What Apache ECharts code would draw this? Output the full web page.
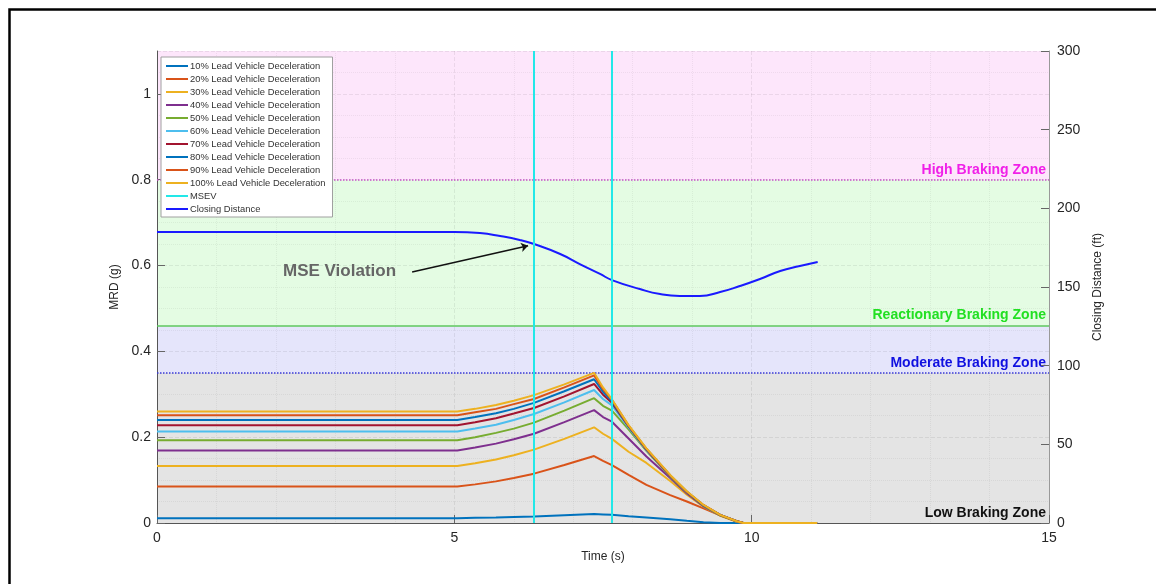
<!DOCTYPE html>
<html><head><meta charset="utf-8">
<script src="https://cdn.jsdelivr.net/npm/echarts@6/dist/echarts.min.js"></script>
<style>html,body{margin:0;padding:0;background:#fff}#c{width:1156px;height:584px}</style>
</head><body><div id="c"></div>
<script>
// ---------- data ----------
const seriesNames = [
  '10% Lead Vehicle Deceleration','20% Lead Vehicle Deceleration','30% Lead Vehicle Deceleration',
  '40% Lead Vehicle Deceleration','50% Lead Vehicle Deceleration','60% Lead Vehicle Deceleration',
  '70% Lead Vehicle Deceleration','80% Lead Vehicle Deceleration','90% Lead Vehicle Deceleration',
  '100% Lead Vehicle Deceleration'
];
const mrdTime = [0, 5.05, 5.35, 5.7, 6.0, 6.34, 6.85, 7.35, 7.5, 7.65, 7.93, 8.23, 8.63, 8.91, 9.19, 9.47, 9.75, 9.86, 11.1];
const mrd10  = [0.011,0.011,0.012,0.013,0.014,0.015,0.018,0.021,0.020,0.019,0.016,0.013,0.009,0.005,0.002,0,0,0,0];
const mrd20  = [0.085,0.085,0.090,0.097,0.105,0.115,0.135,0.156,0.145,0.135,0.112,0.089,0.065,0.050,0.034,0.018,0.004,0,0];
const mrd30  = [0.133,0.133,0.139,0.148,0.158,0.171,0.196,0.223,0.208,0.196,0.166,0.140,0.098,0.066,0.038,0.017,0.003,0,0];
const mrd40  = [0.169,0.169,0.176,0.185,0.195,0.208,0.235,0.263,0.247,0.236,0.197,0.155,0.105,0.069,0.039,0.018,0.004,0,0];
const mrd50  = [0.193,0.193,0.200,0.210,0.220,0.234,0.262,0.291,0.273,0.262,0.218,0.168,0.108,0.071,0.040,0.018,0.004,0,0];
const mrd60  = [0.213,0.213,0.220,0.229,0.240,0.254,0.281,0.310,0.289,0.274,0.223,0.170,0.110,0.072,0.041,0.019,0.004,0,0];
const mrd70  = [0.228,0.228,0.235,0.244,0.255,0.268,0.295,0.324,0.299,0.280,0.225,0.171,0.110,0.072,0.041,0.019,0.004,0,0];
const mrd80  = [0.240,0.240,0.247,0.256,0.266,0.280,0.307,0.335,0.306,0.284,0.226,0.172,0.111,0.073,0.041,0.019,0.004,0,0];
const mrd90  = [0.251,0.251,0.258,0.266,0.277,0.289,0.316,0.344,0.312,0.287,0.227,0.173,0.111,0.073,0.042,0.019,0.004,0,0];
const mrd100 = [0.260,0.260,0.266,0.275,0.285,0.298,0.323,0.350,0.316,0.288,0.228,0.174,0.112,0.074,0.042,0.019,0.004,0,0];
const mrdValues = [mrd10, mrd20, mrd30, mrd40, mrd50, mrd60, mrd70, mrd80, mrd90, mrd100];

const closingTime = [0,5.0,5.43,5.77,6.10,6.34,6.78,7.11,7.45,7.65,8.12,8.46,8.79,9.13,9.47,9.80,10.14,10.48,10.81,11.11];
const closingDist = [185,185,184.3,182.4,179.9,177.3,171.0,164.6,158.3,154.4,148.7,145.5,144.3,144.3,146.8,150.6,155.1,160.2,163.3,165.9];

const msevTimes = [6.34, 7.65];
const zoneBounds = [0, 0.35, 0.46, 0.8, 1.1];
const zoneNames = ['Low Braking Zone', 'Moderate Braking Zone', 'Reactionary Braking Zone', 'High Braking Zone'];
const xTicks = {min: 0, max: 15, step: 5};
const yLeftTicks = {min: 0, max: 1.1, step: 0.2};
const yRightTicks = {min: 0, max: 300, step: 50};
const annotationText = 'MSE Violation';

// ---------- styles ----------
const palette = ['#0072BD','#D95319','#EDB120','#7E2F8E','#77AC30','#4DBEEE','#A2142F','#0072BD','#D95319','#EDB120'];
const FONT = '"Liberation Sans", Arial, sans-serif';
const zoneFill = ['#e4e4e4', '#e5e5fb', '#e4fce3', '#fde6fb'];
const zoneLabelColor = ['#111111', '#1010e0', '#22e022', '#f020e8'];

const chart = echarts.init(document.getElementById('c'), null, {renderer: 'canvas'});

const series = [];
// zones
series.push({
  name: 'zones', type: 'line', data: [], z: 0, silent: true,
  markArea: {
    silent: true, z: 0,
    data: zoneNames.map((n, i) => [
      {yAxis: zoneBounds[i], itemStyle: {color: zoneFill[i]},
       label: {show: true, position: 'insideBottomRight', distance: 3, formatter: n,
               color: zoneLabelColor[i], fontWeight: 'bold', fontSize: 14, fontFamily: FONT}},
      {yAxis: zoneBounds[i + 1]}
    ])
  },
  markLine: {
    silent: true, symbol: 'none', label: {show: false}, z: 2,
    data: [
      {yAxis: zoneBounds[1], lineStyle: {color: '#3a3ad8', type: 'dotted', width: 1.5}},
      {yAxis: zoneBounds[2], lineStyle: {color: '#5cc85c', type: 'solid', width: 1.5}},
      {yAxis: zoneBounds[3], lineStyle: {color: '#c850c8', type: 'dotted', width: 1.5}}
    ]
  }
});
seriesNames.forEach((n, i) => {
  series.push({
    name: n, type: 'line', symbol: 'none', z: 3,
    color: palette[i], lineStyle: {width: 2},
    data: mrdTime.map((t, k) => [t, mrdValues[i][k]])
  });
});
series.push({
  name: 'MSEV', type: 'line', data: [], symbol: 'none', color: '#22e8e8', z: 4,
  lineStyle: {width: 2},
  markLine: {
    silent: true, symbol: 'none', label: {show: false}, z: 6,
    lineStyle: {color: '#22e8e8', width: 2, type: 'solid'},
    data: msevTimes.map(t => ({xAxis: t}))
  }
});
series.push({
  name: 'Closing Distance', type: 'line', yAxisIndex: 1, symbol: 'none', smooth: true, z: 3,
  color: '#1a1aff', lineStyle: {width: 2},
  data: closingTime.map((t, k) => [t, closingDist[k]])
});
// annotation arrow
series.push({
  name: 'annot', type: 'line', data: [], z: 5, silent: true,
  markLine: {
    silent: true, symbol: ['none', 'arrow'], symbolSize: 7, label: {show: false},
    lineStyle: {color: '#111', width: 1.5, type: 'solid'},
    data: [[{coord: [4.29, 0.585]}, {coord: [6.24, 0.646]}]]
  }
});

const gridLine = {show: true, lineStyle: {color: 'rgba(0,0,0,0.07)', type: 'dashed', width: 1}};
const minorLine = {show: true, lineStyle: {color: 'rgba(0,0,0,0.055)', type: 'dotted', width: 1}};
const labelStyle = {color: '#262626', fontSize: 14, fontFamily: FONT};

chart.setOption({
  backgroundColor: '#ffffff',
  animation: false,
  textStyle: {fontFamily: FONT},
  grid: {left: 157, right: 107, top: 51, bottom: 61, containLabel: false},
  legend: {
    data: seriesNames.concat(['MSEV', 'Closing Distance']),
    orient: 'vertical', left: 161, top: 57,
    icon: 'rect', itemWidth: 22, itemHeight: 2, itemGap: 3,
    backgroundColor: '#ffffff', borderColor: '#a0a0a0', borderWidth: 1,
    padding: [4, 7, 3, 5],
    textStyle: {fontSize: 9.4, color: '#333', fontFamily: FONT, lineHeight: 10, padding: [0, 0, 0, -3]}
  },
  xAxis: {
    type: 'value', min: xTicks.min, max: xTicks.max, interval: xTicks.step, z: 1.5,
    name: 'Time (s)', nameLocation: 'middle', nameGap: 28,
    nameTextStyle: {color: '#262626', fontSize: 12, fontFamily: FONT},
    axisLine: {show: true, lineStyle: {color: '#555', width: 1}},
    axisTick: {show: true, inside: true, length: 8, lineStyle: {color: '#666'}},
    axisLabel: Object.assign({margin: 8}, labelStyle),
    splitLine: gridLine,
    minorTick: {show: false, splitNumber: 5},
    minorSplitLine: minorLine
  },
  yAxis: [{
    type: 'value', min: yLeftTicks.min, max: yLeftTicks.max, interval: yLeftTicks.step, z: 1.5,
    name: 'MRD (g)', nameLocation: 'middle', nameGap: 28,
    nameTextStyle: {color: '#262626', fontSize: 12, fontFamily: FONT},
    axisLine: {show: true, lineStyle: {color: '#555', width: 1}},
    axisTick: {show: true, inside: true, length: 8, lineStyle: {color: '#666'}},
    axisLabel: Object.assign({margin: 6, showMaxLabel: false, formatter: v => String(+v.toFixed(1))}, labelStyle),
    splitLine: gridLine,
    minorTick: {show: false, splitNumber: 4},
    minorSplitLine: minorLine
  }, {
    type: 'value', position: 'right', min: yRightTicks.min, max: yRightTicks.max, interval: yRightTicks.step, z: 1.5,
    name: 'Closing Distance (ft)', nameLocation: 'middle', nameGap: 40, nameRotate: 90,
    nameTextStyle: {color: '#262626', fontSize: 12, fontFamily: FONT},
    axisLine: {show: true, lineStyle: {color: '#999', width: 1}},
    axisTick: {show: true, inside: true, length: 8, lineStyle: {color: '#666'}},
    axisLabel: Object.assign({margin: 8}, labelStyle),
    splitLine: {show: false}
  }],
  graphic: [
    {type: 'rect', left: 7, top: 7, silent: true, z: 100,
     shape: {x: 0, y: 0, width: 1300, height: 700},
     style: {fill: 'none', stroke: '#000', lineWidth: 2.5}},
    {type: 'text', left: 283, top: 263, z: 100, silent: true,
     style: {text: annotationText, fill: '#666666', font: 'bold 17px "Liberation Sans", Arial, sans-serif'}}
  ],
  series: series
});
</script>
</body></html>
